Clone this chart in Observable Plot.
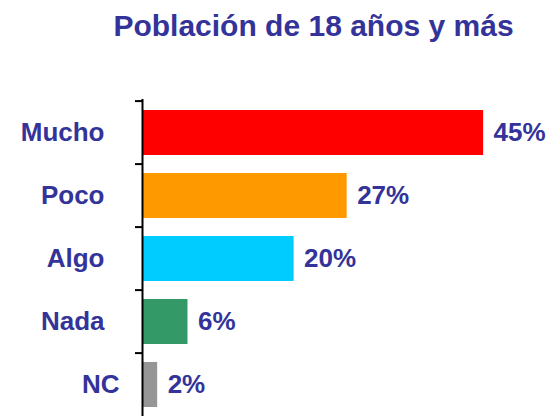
<!DOCTYPE html>
<html>
<head>
<meta charset="utf-8">
<script src="https://cdn.jsdelivr.net/npm/d3@7"></script>
<script src="https://cdn.jsdelivr.net/npm/@observablehq/plot@0.6"></script>
<style>
  html, body { margin: 0; padding: 0; background: #fff; overflow: hidden; }
  body { width: 547px; height: 416px; position: relative; font-family: "Liberation Sans", Arial, sans-serif; }
  #title { position: absolute; left: 313.5px; top: 11px; transform: translateX(-50%); white-space: nowrap;
           font-size: 30px; line-height: 30px; font-weight: bold; color: #333399; }
  #chart { position: absolute; left: 0; top: 0; }
</style>
</head>
<body>
<div id="title"></div>
<div id="chart"></div>
<script>
const titleText = "Población de 18 años y más";
const categories = ["Mucho", "Poco", "Algo", "Nada", "NC"];
const values = [45, 27, 20, 6, 2];
const colors = ["#FF0000", "#FF9900", "#00CCFF", "#339966", "#969696"];

const data = categories.map((c, i) => ({cat: c, value: values[i], color: colors[i]}));

document.getElementById("title").textContent = titleText;

const W = 547, H = 420, mL = 142, mR = 26, mT = 99, mB = 2;
const step = (H - mT - mB) / categories.length;
const plotW = W - mL - mR;
const labelStyle = {tickSize: 0, label: null, fill: "#333399", fontSize: 26, fontWeight: "bold"};

const chart = Plot.plot({
  width: W,
  height: H,
  marginLeft: mL,
  marginRight: mR,
  marginTop: mT,
  marginBottom: mB,
  style: {fontFamily: "'Liberation Sans', Arial, sans-serif", fontSize: "26px", fontWeight: "bold", color: "#333399", background: "transparent"},
  x: {domain: [0, 50], axis: null},
  y: {domain: categories, paddingInner: 0.29, paddingOuter: 0.145, label: null, axis: null},
  color: {type: "identity"},
  marks: [
    Plot.barX(data, {x: "value", y: "cat", fill: "color"}),
    Plot.ruleX([0], {stroke: "black", strokeWidth: 2}),
    Plot.ruleY(categories, {y: d => d, dy: -step / 2, dx: -7, insetRight: plotW - 7, stroke: "black", strokeWidth: 2}),
    Plot.text(data, {x: "value", y: "cat", text: d => d.value + "%", dx: 10, textAnchor: "start", fill: "#333399", fontSize: 26, fontWeight: "bold"}),
    Plot.axisY(categories.slice(0, 4), {...labelStyle, tickPadding: 38}),
    Plot.axisY(categories.slice(4), {...labelStyle, tickPadding: 23})
  ]
});
document.getElementById("chart").appendChild(chart);
</script>
</body>
</html>
